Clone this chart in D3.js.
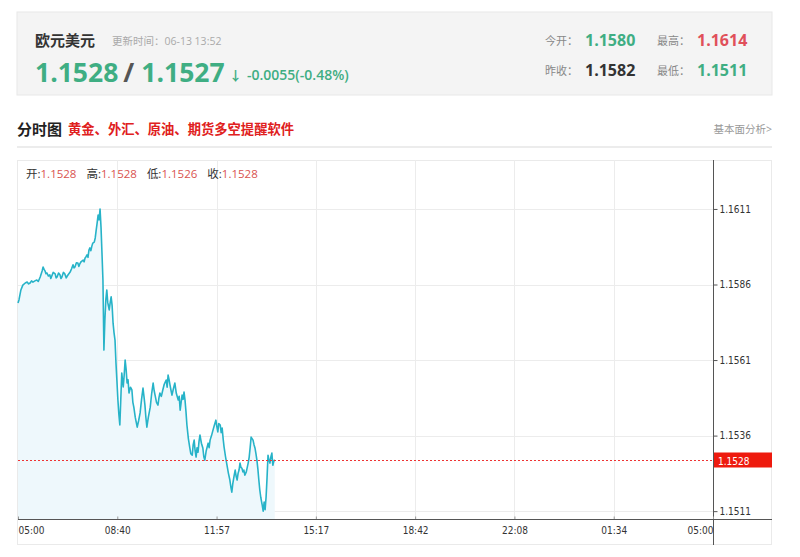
<!DOCTYPE html>
<html><head><meta charset="utf-8">
<script src="https://cdn.jsdelivr.net/npm/d3@7"></script>
<style>
html,body{margin:0;padding:0;background:#fff;}
svg{display:block;font-family:"Open Sans","Noto Sans CJK SC",sans-serif;}
</style></head>
<body>
<svg id="c" width="800" height="557"></svg>
<script>
// ---------- DATA ----------
const pairName = "欧元美元";
const updateTime = "更新时间：06-13 13:52";
const bidAsk = ["1.1528", "1.1527"];
const change = "-0.0055(-0.48%)";
const statLabels = ["今开：", "最高：", "昨收：", "最低："];
const statValues = ["1.1580", "1.1614", "1.1582", "1.1511"];
const ohlcLabels = ["开:", "高:", "低:", "收:"];
const ohlcValues = ["1.1528", "1.1528", "1.1526", "1.1528"];
const xTickLabels = ["05:00", "08:40", "11:57", "15:17", "18:42", "22:08", "01:34", "05:00"];
const yTickValues = [1.1611, 1.1586, 1.1561, 1.1536, 1.1511];
const lastPrice = 1.1528;
const sessionMinutes = 1440;
// [minutes since 05:00, price]
const series = [
[0,1.15799],[2,1.15809],[6,1.15842],[10,1.15858],[15,1.15865],[19,1.15868],[22,1.15862],[25,1.15865],[28,1.15872],[31,1.15868],
[35,1.15872],[39,1.15875],[42,1.15870],[46,1.15885],[50,1.15905],[52,1.15918],[54,1.15910],[56,1.15905],[58,1.15896],[60,1.15898],
[63,1.15888],[66,1.15892],[68,1.15880],[70,1.15888],[73,1.15900],[77,1.15895],[79,1.15882],[81,1.15885],[84,1.15898],[87,1.15892],
[89,1.15880],[91,1.15885],[94,1.15900],[97,1.15895],[100,1.15882],[102,1.15888],[105,1.15895],[108,1.15901],[111,1.15912],[114,1.15925],
[116,1.15915],[118,1.15918],[121,1.15932],[124,1.15931],[126,1.15920],[128,1.15928],[131,1.15936],[135,1.15941],[137,1.15935],[139,1.15948],
[141,1.15952],[143,1.15958],[145,1.15950],[147,1.15974],[149,1.15981],[151,1.15972],[153,1.15987],[155,1.15997],[158,1.16000],[160,1.16014],
[162,1.16040],[164,1.16064],[166,1.16090],[168,1.16074],[170,1.16110],[172,1.16050],[174,1.15964],[176,1.15875],[178,1.15643],[180,1.15742],
[182,1.15810],[184,1.15842],[186,1.15800],[189,1.15776],[191,1.15800],[193,1.15819],[195,1.15790],[197,1.15732],[199,1.15700],[201,1.15676],
[203,1.15600],[205,1.15540],[207,1.15478],[209,1.15430],[211,1.15395],[213,1.15480],[215,1.15567],[218,1.15521],[220,1.15560],[222,1.15610],
[224,1.15580],[226,1.15534],[228,1.15545],[230,1.15501],[233,1.15520],[236,1.15511],[238,1.15470],[240,1.15454],[243,1.15420],[247,1.15388],
[250,1.15410],[253,1.15435],[256,1.15480],[259,1.15517],[261,1.15490],[263,1.15461],[265,1.15420],[267,1.15388],[270,1.15420],[274,1.15454],
[277,1.15500],[280,1.15534],[282,1.15510],[284,1.15494],[287,1.15470],[290,1.15461],[292,1.15485],[294,1.15501],[297,1.15490],[300,1.15511],
[303,1.15530],[307,1.15544],[309,1.15520],[311,1.15560],[313,1.15545],[315,1.15527],[317,1.15510],[319,1.15494],[322,1.15515],[325,1.15534],
[328,1.15500],[332,1.15478],[334,1.15490],[336,1.15444],[338,1.15470],[340,1.15494],[342,1.15480],[344,1.15504],[346,1.15478],[348,1.15440],
[350,1.15395],[353,1.15350],[356,1.15319],[358,1.15300],[361,1.15295],[363,1.15330],[365,1.15345],[367,1.15310],[369,1.15289],[371,1.15320],
[373,1.15305],[375,1.15340],[377,1.15362],[380,1.15335],[383,1.15319],[385,1.15290],[387,1.15279],[390,1.15310],[394,1.15335],[396,1.15320],
[398,1.15345],[401,1.15360],[404,1.15378],[407,1.15395],[410,1.15411],[412,1.15390],[414,1.15372],[416,1.15400],[419,1.15395],[421,1.15370],
[423,1.15385],[425,1.15350],[427,1.15322],[430,1.15290],[433,1.15262],[436,1.15235],[439,1.15213],[441,1.15190],[443,1.15173],[445,1.15200],
[448,1.15229],[450,1.15246],[452,1.15225],[454,1.15213],[456,1.15235],[458,1.15246],[460,1.15269],[462,1.15255],[464,1.15252],[466,1.15240],
[468,1.15246],[470,1.15229],[473,1.15240],[477,1.15270],[479,1.15289],[481,1.15320],[483,1.15355],[485,1.15350],[487,1.15345],[489,1.15330],
[491,1.15319],[493,1.15300],[495,1.15279],[497,1.15250],[499,1.15213],[501,1.15180],[503,1.15156],[506,1.15130],[508,1.15110],[510,1.15140],
[512,1.15115],[514,1.15156],[516,1.15220],[518,1.15295],[520,1.15279],[522,1.15269],[524,1.15290],[526,1.15302],[528,1.15262],[530,1.15275],
[532,1.15280]
];

// ---------- LAYOUT ----------
(function(){
const svg = d3.select("#c");
const green = "#3fae83", red = "#e0505a";

// header box
svg.append("rect").attr("x",17).attr("y",12).attr("width",755).attr("height",83)
  .attr("fill","#f4f4f4").attr("stroke","#e8e8e8");
svg.append("text").attr("x",35).attr("y",46).attr("font-size",15).attr("font-weight","bold")
  .attr("fill","#333").text(pairName);
svg.append("text").attr("x",112).attr("y",45).attr("font-size",10.5).attr("fill","#aaa").text(updateTime);

const big = svg.append("text").attr("x",35).attr("y",82).attr("font-size",26.5).attr("font-weight","bold");
big.append("tspan").attr("fill",green).text(bidAsk[0]);
big.append("tspan").attr("fill","#555").attr("dx",5).text("/");
big.append("tspan").attr("fill",green).attr("dx",7).text(bidAsk[1]);
svg.append("text").attr("x",229).attr("y",80).attr("font-size",13).attr("font-weight","bold").attr("fill",green).text("↓");
svg.append("text").attr("x",247).attr("y",80).attr("font-size",14).attr("font-weight",600).attr("fill",green).text(change);

const statPos = [[545,46],[657,46],[545,76],[657,76]];
const statColors = [green, red, "#333", green];
statLabels.forEach((l,i)=>{
  svg.append("text").attr("x",statPos[i][0]).attr("y",statPos[i][1]-1).attr("font-size",11).attr("fill","#888").text(l);
  svg.append("text").attr("x",statPos[i][0]+40).attr("y",statPos[i][1]).attr("font-size",16).attr("font-weight","bold")
    .attr("fill",statColors[i]).text(statValues[i]);
});

// title row
svg.append("text").attr("x",17).attr("y",135).attr("font-size",15).attr("font-weight","bold").attr("fill","#222").text("分时图");
svg.append("text").attr("x",68).attr("y",134).attr("font-size",13.3).attr("font-weight","bold").attr("fill","#e02020")
  .text("黄金、外汇、原油、期货多空提醒软件");
svg.append("text").attr("x",772).attr("y",133).attr("font-size",10.5).attr("fill","#999").attr("text-anchor","end").text("基本面分析>");
svg.append("rect").attr("x",17).attr("y",146).attr("width",755).attr("height",2).attr("fill","#ececec");

// chart box
svg.append("rect").attr("x",17.5).attr("y",160.5).attr("width",754).attr("height",384).attr("fill","#fff").attr("stroke","#eaeaea");

const pL = 18, pR = 713, pT = 160, pB = 519;
const x = d3.scaleLinear().domain([0, sessionMinutes]).range([pL, pR]);
const y = d3.scaleLinear().domain([1.15084, 1.16272]).range([pB, pT]);
const tickMins = xTickLabels.map((d,i)=> i*sessionMinutes/(xTickLabels.length-1));

// grid
const g = svg.append("g");
g.selectAll(".vg").data(tickMins.slice(1,-1)).join("line")
  .attr("x1",d=>Math.round(x(d))+0.5).attr("x2",d=>Math.round(x(d))+0.5).attr("y1",pT).attr("y2",pB)
  .attr("stroke","#ececec");
g.selectAll(".hg").data(yTickValues).join("line")
  .attr("x1",pL).attr("x2",pR).attr("y1",d=>Math.round(y(d))+0.5).attr("y2",d=>Math.round(y(d))+0.5)
  .attr("stroke","#ececec");

// area + line
const pts = series.map(d=>({m:d[0], p:d[1]}));
svg.append("path").datum(pts)
  .attr("d", d3.area().x(d=>x(d.m)).y0(pB).y1(d=>y(d.p)))
  .attr("fill","#eef8fc");
svg.append("path").datum(pts)
  .attr("d", d3.line().x(d=>x(d.m)).y(d=>y(d.p)))
  .attr("fill","none").attr("stroke","#27b3c8").attr("stroke-width",1.6).attr("stroke-linejoin","round");

// last price line
const ly = Math.round(y(lastPrice))+0.5;
svg.append("line").attr("x1",pL).attr("x2",pR).attr("y1",ly).attr("y2",ly)
  .attr("stroke","#e33").attr("stroke-dasharray","2,2").attr("stroke-width",1);

// y axis
const axisFont = "'DejaVu Sans Condensed','Open Sans',sans-serif";
const yAxis = d3.axisRight(y).tickValues(yTickValues).tickFormat(d3.format(".4f")).tickSize(4).tickPadding(2);
const ya = svg.append("g").attr("transform",`translate(${pR+0.5},0)`).call(yAxis);
ya.select(".domain").remove();
ya.selectAll("line").attr("stroke","#555");
ya.selectAll("text").attr("font-size",10).attr("fill","#333").attr("font-family",axisFont);
svg.append("line").attr("x1",pR+0.5).attr("x2",pR+0.5).attr("y1",pT).attr("y2",545).attr("stroke","#555");

// last price tag
svg.append("rect").attr("x",pR+1).attr("y",ly-8).attr("width",58).attr("height",15).attr("fill","#ee1a0e");
svg.append("text").attr("x",pR+5).attr("y",ly+4).attr("font-size",10).attr("fill","#fff")
  .attr("font-family",axisFont).text(d3.format(".4f")(lastPrice));

// x axis
const xAxis = d3.axisBottom(x).tickValues(tickMins).tickFormat((d,i)=>xTickLabels[i]).tickSize(3).tickPadding(4);
const xa = svg.append("g").attr("transform",`translate(0,${pB+0.5})`).call(xAxis);
xa.select(".domain").remove();
xa.selectAll("line").attr("stroke","#999").attr("transform","translate(0,-3)");
xa.selectAll("text").attr("font-size",10).attr("fill","#333").attr("font-family",axisFont)
  .attr("text-anchor",(d,i)=> i===0 ? "start" : (i===xTickLabels.length-1 ? "end" : "middle"));
svg.append("line").attr("x1",pL).attr("x2",772).attr("y1",pB+0.5).attr("y2",pB+0.5).attr("stroke","#555");

// OHLC info row
const info = svg.append("text").attr("x",26).attr("y",178).attr("font-size",11.5);
ohlcLabels.forEach((l,i)=>{
  info.append("tspan").attr("fill","#333").attr("dx", i===0?0:10).text(l);
  info.append("tspan").attr("fill","#d9534f").text(ohlcValues[i]);
});
})();
</script>
</body></html>
